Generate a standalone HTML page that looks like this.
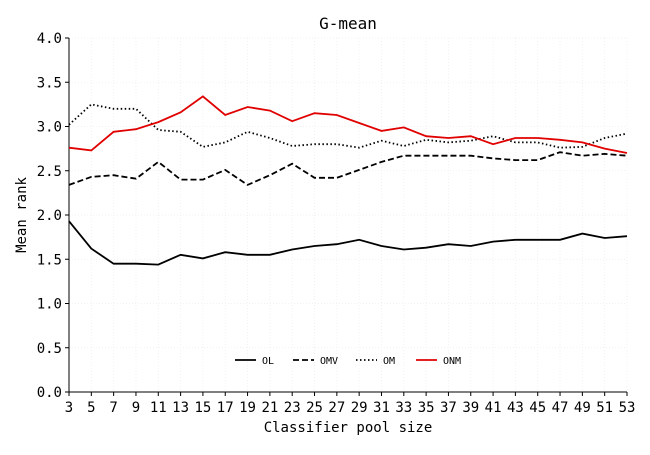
<!DOCTYPE html>
<html><head><meta charset="utf-8"><style>
html,body{margin:0;padding:0;background:#fff;}
svg text{font-family:"DejaVu Sans Mono","Liberation Mono",monospace;fill:#000;}
</style></head><body>
<svg id="chart" width="650" height="450" xmlns="http://www.w3.org/2000/svg"></svg>
<script>
const poolSizes=[3,5,7,9,11,13,15,17,19,21,23,25,27,29,31,33,35,37,39,41,43,45,47,49,51,53];
const olValues=[1.93,1.62,1.45,1.45,1.44,1.55,1.51,1.58,1.55,1.55,1.61,1.65,1.67,1.72,1.65,1.61,1.63,1.67,1.65,1.70,1.72,1.72,1.72,1.79,1.74,1.76];
const omvValues=[2.34,2.43,2.45,2.41,2.60,2.40,2.40,2.51,2.34,2.45,2.58,2.42,2.42,2.51,2.60,2.67,2.67,2.67,2.67,2.64,2.62,2.62,2.71,2.67,2.69,2.67];
const omValues=[3.02,3.25,3.20,3.20,2.96,2.94,2.77,2.82,2.94,2.87,2.78,2.80,2.80,2.76,2.84,2.78,2.85,2.82,2.84,2.89,2.82,2.82,2.76,2.77,2.87,2.92];
const onmValues=[2.76,2.73,2.94,2.97,3.05,3.16,3.34,3.13,3.22,3.18,3.06,3.15,3.13,3.04,2.95,2.99,2.89,2.87,2.89,2.80,2.87,2.87,2.85,2.82,2.75,2.70];
const yTicks=[0,0.5,1,1.5,2,2.5,3,3.5,4];
const svg=document.getElementById('chart');
const NS='http://www.w3.org/2000/svg';
const L=69,R=627,T=38,B=392;
const xs=v=>L+(v-3)/(53-3)*(R-L);
const ys=v=>B-v/4*(B-T);
function mk(tag,attrs,parent){const e=document.createElementNS(NS,tag);for(const k in attrs)e.setAttribute(k,attrs[k]);(parent||svg).appendChild(e);return e;}
// grid
yTicks.forEach(t=>{const g=mk('line',{x1:L,x2:R,y1:ys(t),y2:ys(t),stroke:'#eee','stroke-dasharray':'1,2','stroke-width':0.8});

});
poolSizes.forEach(p=>{const g=mk('line',{x1:xs(p),x2:xs(p),y1:T,y2:B,stroke:'#eee','stroke-dasharray':'1,2','stroke-width':0.8});

});
// axes
const ax=mk('path',{d:`M${L},${T} L${L},${B} L${R},${B}`,fill:'none',stroke:'#000','stroke-width':1});


yTicks.forEach(t=>{mk('line',{x1:L-4,x2:L,y1:ys(t),y2:ys(t),stroke:'#000'});
const tx=mk('text',{x:L-7,y:ys(t)+5,'text-anchor':'end','font-size':14});tx.textContent=t.toFixed(1);

});
poolSizes.forEach(p=>{mk('line',{x1:xs(p),x2:xs(p),y1:B,y2:B+4,stroke:'#000'});
const tx=mk('text',{x:xs(p),y:B+20,'text-anchor':'middle','font-size':14});tx.textContent=p;

});
const title=mk('text',{x:(L+R)/2,y:29,'text-anchor':'middle','font-size':16});title.textContent='G-mean';


const xt=mk('text',{x:(L+R)/2,y:432,'text-anchor':'middle','font-size':14});xt.textContent='Classifier pool size';


const yt=mk('text',{x:0,y:0,'text-anchor':'middle','font-size':14,transform:`translate(26,${(T+B)/2}) rotate(-90)`});yt.textContent='Mean rank';


const series=[['OL',olValues,'#000','none'],['OMV',omvValues,'#000','6,3'],['OM',omValues,'#000','1.5,2.5'],['ONM',onmValues,'#e00000','none']];
series.forEach(([n,vals,c,da])=>{const d=vals.map((v,i)=>(i?'L':'M')+xs(poolSizes[i]).toFixed(1)+','+ys(v).toFixed(1)).join(' ');
const p=mk('path',{d,fill:'none',stroke:c,'stroke-width':1.8,'stroke-dasharray':da});

});
const lx=[235,293,356,416];
series.forEach(([n,vals,c,da],i)=>{const g=mk('g',{});


mk('line',{x1:lx[i],x2:lx[i]+21,y1:360,y2:360,stroke:c,'stroke-width':1.8,'stroke-dasharray':da},g);
const t=mk('text',{x:lx[i]+27,y:364,'font-size':10},g);t.textContent=n;});
</script>
</body></html>
